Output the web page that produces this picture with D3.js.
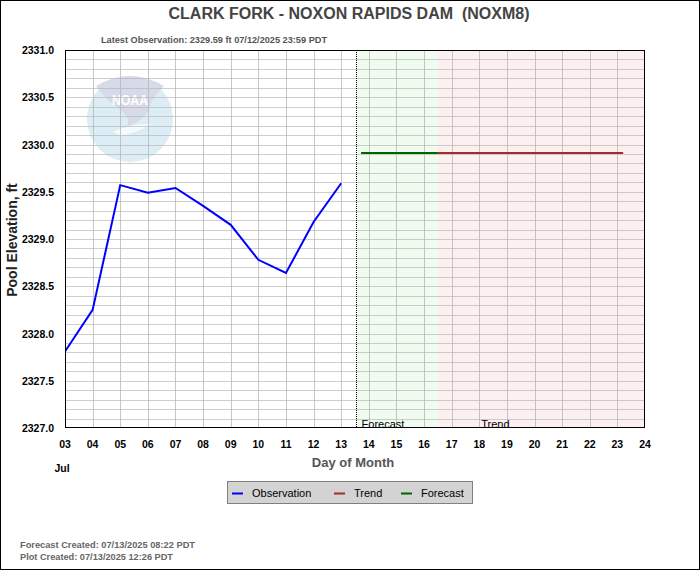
<!DOCTYPE html>
<html><head><meta charset="utf-8">
<script src="https://cdn.jsdelivr.net/npm/d3@7"></script>
<style>body{margin:0;background:#fff}svg{display:block}text{font-family:"Liberation Sans",Arial,sans-serif;white-space:pre}</style>
</head><body><svg id="c" width="700" height="570"></svg>
<script>
// ---- data ----
const obsDays = [3,4,5,6,7,8,9,10,11,12,13];
const obsVals = [2327.81,2328.25,2329.57,2329.49,2329.54,2329.35,2329.15,2328.78,2328.64,2329.18,2329.59];
const fcstDays = [13.72,16.5];
const fcstVals = [2329.91,2329.91];
const trendDays = [16.5,23.21];
const trendVals = [2329.91,2329.91];
const nowDay = 13.52;
const fcstEndDay = 16.5;
const xTickDays = d3.range(3,25);
const xTickLabels = ["03","04","05","06","07","08","09","10","11","12","13","14","15","16","17","18","19","20","21","22","23","24"];
const yTicks = [2327.0,2327.5,2328.0,2328.5,2329.0,2329.5,2330.0,2330.5,2331.0];
const title = "CLARK FORK - NOXON RAPIDS DAM  (NOXM8)";
const subtitle = "Latest Observation: 2329.59 ft 07/12/2025 23:59 PDT";
const legendItems = [["Observation","#0000ff"],["Trend","#a52a2a"],["Forecast","#006400"]];
const footer = ["Forecast Created: 07/13/2025 08:22 PDT","Plot Created: 07/13/2025 12:26 PDT"];

const svg = d3.select("#c");
const L=65,R=645,T=50,B=428;
const x = d3.scaleLinear().domain([3,24]).range([L,R]);
const y = d3.scaleLinear().domain([2327,2331]).range([B,T]);

svg.append("rect").attr("x",0.5).attr("y",0.5).attr("width",699).attr("height",569).attr("fill","#fff").attr("stroke","#000");

svg.append("defs").append("clipPath").attr("id","pc").append("rect").attr("x",L).attr("y",T).attr("width",R-L).attr("height",B-T);
const g = svg.append("g").attr("clip-path","url(#pc)");

// shading
g.append("rect").attr("x",x(nowDay)).attr("y",T).attr("width",x(fcstEndDay)-x(nowDay)).attr("height",B-T).attr("fill","#f0fcef");
g.append("rect").attr("x",x(fcstEndDay)).attr("y",T).attr("width",R-x(fcstEndDay)).attr("height",B-T).attr("fill","#fdf0f0");

// NOAA watermark
const logo = g.append("g");
logo.append("circle").attr("cx",130).attr("cy",119).attr("r",43).attr("fill","#dcedf6");
logo.append("path").attr("d","M96,86 Q130,66 164,86 Q151,98 148,112 Q140,122 127,127 Q131,117 119,109 Q105,99 96,86 Z").attr("fill","#d7dae8");
logo.append("path").attr("d","M113,132 Q131,123 152,124 Q136,133 121,136 Z").attr("fill","#ffffff").attr("opacity",0.7);
logo.append("text").attr("x",130).attr("y",105).attr("text-anchor","middle").attr("font-size",14).attr("font-weight","bold").attr("fill","#fff").attr("textLength",36).attr("lengthAdjust","spacingAndGlyphs").text("NOAA");

// grid
const hv = d3.range(0,41).map(i=>2327+i*0.1);
g.selectAll(".hg").data(hv).join("line").attr("x1",L).attr("x2",R).attr("y1",d=>Math.round(y(d))+0.5).attr("y2",d=>Math.round(y(d))+0.5).attr("stroke","#b4b4b4").attr("stroke-opacity",0.65);
g.selectAll(".vg").data(xTickDays).join("line").attr("y1",T).attr("y2",B).attr("x1",d=>Math.round(x(d))+0.5).attr("x2",d=>Math.round(x(d))+0.5).attr("stroke","#b4b4b4").attr("stroke-opacity",0.75);

// now line
g.append("line").attr("x1",Math.round(x(nowDay))+0.5).attr("x2",Math.round(x(nowDay))+0.5).attr("y1",T).attr("y2",B).attr("stroke","#000").attr("stroke-dasharray","1,1");

// labels inside
g.append("text").attr("x",x(nowDay)+6).attr("y",B).attr("font-size",11).attr("fill","#000").text("Forecast");
g.append("text").attr("x",x(18)+2).attr("y",B).attr("font-size",11).attr("fill","#000").text("Trend");

const line = d3.line().x(d=>x(d[0])).y(d=>y(d[1]));
g.append("path").datum(d3.zip(fcstDays,fcstVals)).attr("d",line).attr("fill","none").attr("stroke","#006400").attr("stroke-width",2);
g.append("path").datum(d3.zip(trendDays,trendVals)).attr("d",line).attr("fill","none").attr("stroke","#a52a2a").attr("stroke-width",2);
g.append("path").datum(d3.zip(obsDays,obsVals)).attr("d",line).attr("fill","none").attr("stroke","#0000ff").attr("stroke-width",2);

// frame
svg.append("rect").attr("x",L+0.5).attr("y",T+0.5).attr("width",R-L-1).attr("height",B-T-1).attr("fill","none").attr("stroke","#000");

// axes labels
svg.selectAll(".yl").data(yTicks).join("text").attr("x",54).attr("y",d=>y(d)+4).attr("text-anchor","end").attr("font-size",10.5).attr("font-weight","bold").attr("fill","#000").text(d=>d.toFixed(1));
svg.selectAll(".xl").data(xTickDays).join("text").attr("x",d=>x(d)).attr("y",448).attr("text-anchor","middle").attr("font-size",10.5).attr("font-weight","bold").attr("fill","#000").text((d,i)=>xTickLabels[i]);
svg.append("text").attr("x",62).attr("y",472).attr("text-anchor","middle").attr("font-size",10.5).attr("font-weight","bold").text("Jul");
svg.append("text").attr("x",353).attr("y",467).attr("text-anchor","middle").attr("font-size",13).attr("font-weight","bold").attr("fill","#555").text("Day of Month");
svg.append("text").attr("transform","translate(17,240) rotate(-90)").attr("text-anchor","middle").attr("font-size",14).attr("font-weight","bold").attr("fill","#222").text("Pool Elevation, ft");

svg.append("text").attr("x",349).attr("y",19).attr("text-anchor","middle").attr("font-size",16).attr("font-weight","bold").attr("fill","#444").attr("textLength",361).attr("lengthAdjust","spacingAndGlyphs").text(title);
svg.append("text").attr("x",101).attr("y",43).attr("font-size",9).attr("font-weight","bold").attr("fill","#555").attr("textLength",226).attr("lengthAdjust","spacingAndGlyphs").text(subtitle);

// legend
const lg = svg.append("g");
lg.append("rect").attr("x",227.5).attr("y",481.5).attr("width",245).attr("height",22).attr("fill","#d3d3d3").attr("stroke","#808080");
const lx=[232,334,401];
legendItems.forEach((it,i)=>{
  lg.append("line").attr("x1",lx[i]).attr("x2",lx[i]+11).attr("y1",493.5).attr("y2",493.5).attr("stroke",it[1]).attr("stroke-width",2);
  lg.append("text").attr("x",lx[i]+20).attr("y",496.5).attr("font-family","DejaVu Sans").attr("font-size",11).attr("fill","#000").text(it[0]);
});

footer.forEach((t,i)=>svg.append("text").attr("x",20).attr("y",548+i*12).attr("font-size",9).attr("font-weight","bold").attr("fill","#666").attr("textLength",[175,153][i]).attr("lengthAdjust","spacingAndGlyphs").text(t));
</script></body></html>
